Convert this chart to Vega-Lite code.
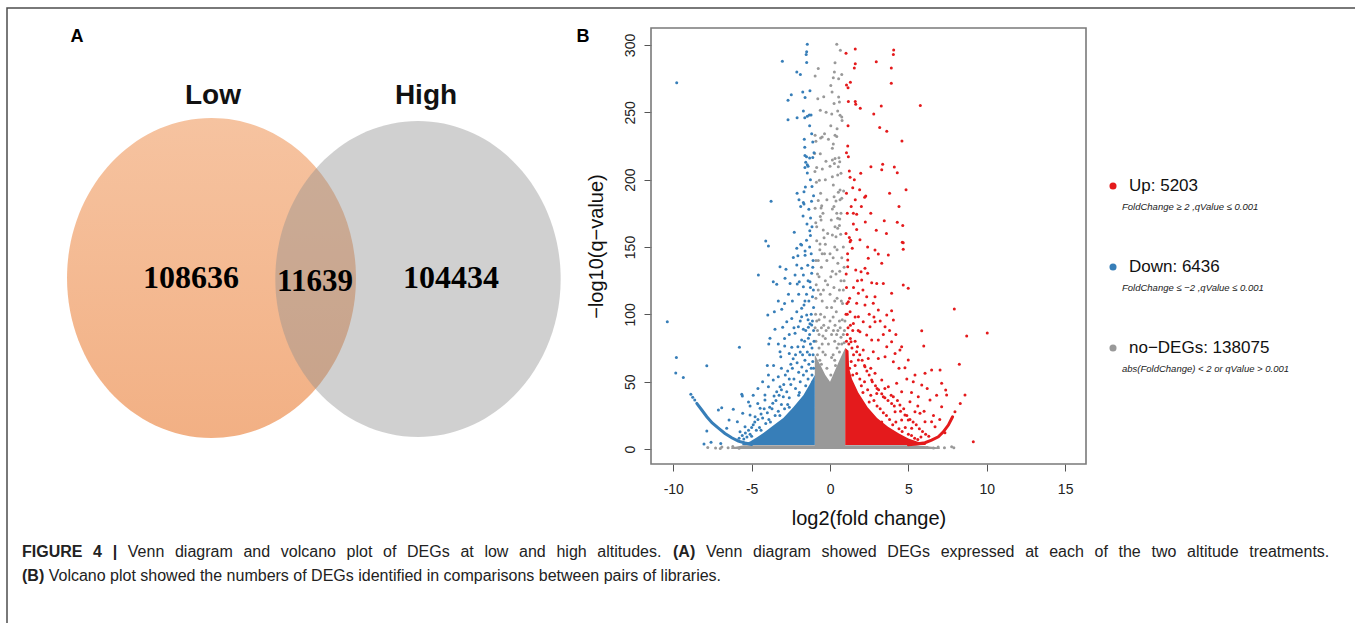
{
"$schema": "https://vega.github.io/schema/vega-lite/v6.json",
"width": 1348, "height": 615,
"autosize": {"type": "none"},
"padding": {"left": 7, "top": 8, "right": 0, "bottom": 0},
"background": "white",
"config": {"view": {"stroke": null}, "font": "Liberation Sans"},
"resolve": {"scale": {"x": "independent", "y": "independent"}},
"datasets": {
"venn": [{"set": "Low", "count": "108636"}, {"set": "Both", "count": "11639"}, {"set": "High", "count": "104434"}],
"panels": [{"panel": "A"}, {"panel": "B"}],
"dense": [
{"part": "strip", "g": "no", "x": -6.3, "lo": 0, "hi": 1.2}, {"part": "strip", "g": "no", "x": -5.5, "lo": 0, "hi": 2.8}, {"part": "strip", "g": "no", "x": 5.5, "lo": 0, "hi": 2.8}, {"part": "strip", "g": "no", "x": 7.0, "lo": 0, "hi": 1.2},
{"part": "column", "g": "no", "x": -0.97, "lo": 0, "hi": 70}, {"part": "column", "g": "no", "x": -0.6, "lo": 0, "hi": 62}, {"part": "column", "g": "no", "x": -0.3, "lo": 0, "hi": 55}, {"part": "column", "g": "no", "x": 0, "lo": 0, "hi": 50}, {"part": "column", "g": "no", "x": 0.3, "lo": 0, "hi": 58}, {"part": "column", "g": "no", "x": 0.6, "lo": 0, "hi": 66}, {"part": "column", "g": "no", "x": 0.97, "lo": 0, "hi": 75},
{"part": "down", "g": "down", "x": -5.6, "lo": 3, "hi": 3.6}, {"part": "down", "g": "down", "x": -5.1, "lo": 3, "hi": 5.6}, {"part": "down", "g": "down", "x": -4.68, "lo": 3, "hi": 8.5}, {"part": "down", "g": "down", "x": -4.25, "lo": 3, "hi": 12}, {"part": "down", "g": "down", "x": -3.62, "lo": 3, "hi": 17.5}, {"part": "down", "g": "down", "x": -2.98, "lo": 3, "hi": 23}, {"part": "down", "g": "down", "x": -2.34, "lo": 3, "hi": 31}, {"part": "down", "g": "down", "x": -1.7, "lo": 3, "hi": 40}, {"part": "down", "g": "down", "x": -1.3, "lo": 3, "hi": 48}, {"part": "down", "g": "down", "x": -0.97, "lo": 3, "hi": 55},
{"part": "up", "g": "up", "x": 0.97, "lo": 3, "hi": 75}, {"part": "up", "g": "up", "x": 1.18, "lo": 3, "hi": 73}, {"part": "up", "g": "up", "x": 1.22, "lo": 3, "hi": 60}, {"part": "up", "g": "up", "x": 1.4, "lo": 3, "hi": 52}, {"part": "up", "g": "up", "x": 1.8, "lo": 3, "hi": 42}, {"part": "up", "g": "up", "x": 2.4, "lo": 3, "hi": 31}, {"part": "up", "g": "up", "x": 3.0, "lo": 3, "hi": 23}, {"part": "up", "g": "up", "x": 3.7, "lo": 3, "hi": 16.5}, {"part": "up", "g": "up", "x": 4.4, "lo": 3, "hi": 11.5}, {"part": "up", "g": "up", "x": 5.0, "lo": 3, "hi": 7.8}, {"part": "up", "g": "up", "x": 5.6, "lo": 3, "hi": 5.4}, {"part": "up", "g": "up", "x": 6.1, "lo": 3, "hi": 4}
],
"curve": [
{"g": "down", "x": -8.5, "y": 33.9}, {"g": "down", "x": -8.18, "y": 29}, {"g": "down", "x": -7.86, "y": 24}, {"g": "down", "x": -7.53, "y": 19.5}, {"g": "down", "x": -7.12, "y": 15.6}, {"g": "down", "x": -6.7, "y": 11.6}, {"g": "down", "x": -6.27, "y": 8.4}, {"g": "down", "x": -5.85, "y": 5.9}, {"g": "down", "x": -5.42, "y": 4.5}, {"g": "down", "x": -5.0, "y": 3.4},
{"g": "up", "x": 5.0, "y": 3.2}, {"g": "up", "x": 5.5, "y": 3.8}, {"g": "up", "x": 6.06, "y": 4.7}, {"g": "up", "x": 6.48, "y": 6.7}, {"g": "up", "x": 6.91, "y": 9.1}, {"g": "up", "x": 7.23, "y": 12.8}, {"g": "up", "x": 7.55, "y": 17.8}, {"g": "up", "x": 7.82, "y": 24}
],
"pts": [
{"g":"no","x":-0.75,"y":282.6},{"g":"no","x":-0.95,"y":277},{"g":"no","x":-0.78,"y":260},{"g":"no","x":-0.4,"y":261.6},{"g":"no","x":-0.62,"y":251.5},{"g":"no","x":-0.95,"y":233},{"g":"no","x":-0.9,"y":228.5},{"g":"no","x":-0.6,"y":231},{"g":"no","x":-0.5,"y":231.6},{"g":"no","x":-0.35,"y":234},{"g":"no","x":-0.98,"y":219.5},{"g":"no","x":-0.62,"y":219.3},{"g":"no","x":-0.26,"y":213.6},{"g":"no","x":-0.85,"y":209},{"g":"no","x":-0.96,"y":206},{"g":"no","x":-0.49,"y":207.9},{"g":"no","x":-0.68,"y":199.5},{"g":"no","x":-0.87,"y":198},{"g":"no","x":-0.75,"y":184.6},{"g":"no","x":-0.53,"y":180.7},{"g":"no","x":-0.95,"y":178.7},{"g":"no","x":-0.57,"y":179},{"g":"no","x":-0.62,"y":172.7},{"g":"no","x":-0.57,"y":170},{"g":"no","x":-0.91,"y":168},{"g":"no","x":-0.43,"y":162.6},{"g":"no","x":-0.38,"y":156.9},{"g":"no","x":-0.85,"y":154.7},{"g":"no","x":-0.64,"y":152.2},
{"g":"no","x":0.43,"y":300.5},{"g":"no","x":0.66,"y":296},{"g":"no","x":0.32,"y":286.8},{"g":"no","x":0.28,"y":280},{"g":"no","x":0.21,"y":275.7},{"g":"no","x":0.55,"y":275},{"g":"no","x":0.75,"y":278},{"g":"no","x":0.13,"y":265},{"g":"no","x":0.55,"y":261.4},{"g":"no","x":0.6,"y":257.7},{"g":"no","x":0.26,"y":256.5},{"g":"no","x":0.11,"y":248.8},{"g":"no","x":0.49,"y":251},{"g":"no","x":0.64,"y":247.8},{"g":"no","x":0.75,"y":246.5},{"g":"no","x":0.77,"y":244},{"g":"no","x":0.45,"y":237.8},{"g":"no","x":0.32,"y":233},{"g":"no","x":0.43,"y":232},{"g":"no","x":0.21,"y":226.5},{"g":"no","x":0.15,"y":223.3},{"g":"no","x":0.57,"y":216.3},{"g":"no","x":0.32,"y":215.8},{"g":"no","x":0.15,"y":214.6},{"g":"no","x":0.28,"y":212},{"g":"no","x":0.62,"y":213.3},{"g":"no","x":0.53,"y":209.6},{"g":"no","x":0.15,"y":202.2},{"g":"no","x":0.49,"y":203.4},{"g":"no","x":0.7,"y":204.7},{"g":"no","x":0.21,"y":196},{"g":"no","x":0.64,"y":192.3},{"g":"no","x":0.53,"y":190.6},{"g":"no","x":0.87,"y":191.6},{"g":"no","x":0.26,"y":187.4},{"g":"no","x":0.75,"y":186.2},{"g":"no","x":0.38,"y":184.2},{"g":"no","x":0.64,"y":185.1},{"g":"no","x":0.15,"y":178.2},{"g":"no","x":0.43,"y":175},{"g":"no","x":0.49,"y":171.3},{"g":"no","x":0.62,"y":170.8},{"g":"no","x":0.32,"y":165},{"g":"no","x":0.6,"y":165.9},{"g":"no","x":0.49,"y":164},{"g":"no","x":0.15,"y":159},{"g":"no","x":0.68,"y":159.4},{"g":"no","x":0.38,"y":157.7},
{"g":"no","x":-0.9,"y":80},{"g":"no","x":-0.7,"y":85},{"g":"no","x":-0.5,"y":78},{"g":"no","x":-0.3,"y":82},{"g":"no","x":-0.1,"y":90},{"g":"no","x":0.1,"y":85},{"g":"no","x":0.3,"y":80},{"g":"no","x":0.5,"y":88},{"g":"no","x":0.7,"y":83},{"g":"no","x":0.9,"y":79},{"g":"no","x":-0.85,"y":95},{"g":"no","x":-0.6,"y":100},{"g":"no","x":-0.4,"y":92},{"g":"no","x":-0.2,"y":105},{"g":"no","x":0.2,"y":98},{"g":"no","x":0.4,"y":102},{"g":"no","x":0.6,"y":95},{"g":"no","x":0.8,"y":108},{"g":"no","x":-0.9,"y":112},{"g":"no","x":-0.75,"y":118},{"g":"no","x":-0.5,"y":110},{"g":"no","x":-0.3,"y":125},{"g":"no","x":0,"y":115},{"g":"no","x":0.25,"y":120},{"g":"no","x":0.45,"y":112},{"g":"no","x":0.7,"y":125},{"g":"no","x":0.85,"y":118},{"g":"no","x":-0.8,"y":130},{"g":"no","x":-0.55,"y":135},{"g":"no","x":-0.2,"y":140},{"g":"no","x":0.15,"y":132},{"g":"no","x":0.5,"y":138},{"g":"no","x":0.75,"y":142},{"g":"no","x":-0.65,"y":148},{"g":"no","x":-0.35,"y":145},{"g":"no","x":0.3,"y":150},{"g":"no","x":-0.9,"y":140},{"g":"no","x":0.9,"y":135},{"g":"no","x":-0.15,"y":160},{"g":"no","x":-0.6,"y":190},{"g":"no","x":0.05,"y":270},{"g":"no","x":-0.8,"y":70},{"g":"no","x":-0.65,"y":66},{"g":"no","x":-0.2,"y":60},{"g":"no","x":0.05,"y":55},{"g":"no","x":0.35,"y":62},{"g":"no","x":0.6,"y":72},{"g":"no","x":0.85,"y":85},{"g":"no","x":-0.45,"y":72},{"g":"no","x":0.2,"y":70},{"g":"no","x":-0.95,"y":90},{"g":"no","x":0.95,"y":95},
{"g":"no","x":-0.92,"y":100},{"g":"no","x":-0.8,"y":88},{"g":"no","x":-0.7,"y":96},{"g":"no","x":-0.55,"y":90},{"g":"no","x":-0.45,"y":84},{"g":"no","x":-0.35,"y":98},{"g":"no","x":-0.25,"y":88},{"g":"no","x":-0.1,"y":78},{"g":"no","x":0,"y":95},{"g":"no","x":0.1,"y":105},{"g":"no","x":0.22,"y":88},{"g":"no","x":0.32,"y":92},{"g":"no","x":0.42,"y":85},{"g":"no","x":0.55,"y":78},{"g":"no","x":0.65,"y":90},{"g":"no","x":0.78,"y":96},{"g":"no","x":0.92,"y":88},{"g":"no","x":-0.88,"y":122},{"g":"no","x":-0.7,"y":128},{"g":"no","x":-0.6,"y":115},{"g":"no","x":-0.42,"y":118},{"g":"no","x":-0.15,"y":122},{"g":"no","x":0.05,"y":128},{"g":"no","x":0.3,"y":110},{"g":"no","x":0.38,"y":130},{"g":"no","x":0.6,"y":118},{"g":"no","x":0.72,"y":110},{"g":"no","x":0.9,"y":125},{"g":"no","x":-0.75,"y":140},{"g":"no","x":-0.5,"y":145},{"g":"no","x":-0.3,"y":152},{"g":"no","x":0,"y":145},{"g":"no","x":0.2,"y":142},{"g":"no","x":0.45,"y":148},{"g":"no","x":0.62,"y":132},{"g":"no","x":0.85,"y":150},{"g":"no","x":-0.85,"y":165},{"g":"no","x":-0.45,"y":175},{"g":"no","x":-0.2,"y":185},{"g":"no","x":0.08,"y":170},{"g":"no","x":0.25,"y":180},{"g":"no","x":0.7,"y":175},{"g":"no","x":-0.3,"y":200},{"g":"no","x":0,"y":210},{"g":"no","x":-0.1,"y":230},{"g":"no","x":0.05,"y":240},{"g":"no","x":-0.25,"y":250},{"g":"no","x":-0.7,"y":75},{"g":"no","x":-0.3,"y":70},{"g":"no","x":0.1,"y":68},{"g":"no","x":0.45,"y":75},{"g":"no","x":0.75,"y":78},{"g":"no","x":-0.55,"y":63},{"g":"no","x":0.3,"y":66},
{"g":"no","x":-7.8,"y":1.2},{"g":"no","x":-7.3,"y":0.8},{"g":"no","x":-7,"y":0.4},{"g":"no","x":-6.9,"y":1.5},{"g":"no","x":-6.5,"y":1},{"g":"no","x":-6.2,"y":1.8},{"g":"no","x":-5.8,"y":0.6},{"g":"no","x":6.2,"y":1.2},{"g":"no","x":6.6,"y":0.8},{"g":"no","x":6.9,"y":1.5},{"g":"no","x":7.3,"y":0.9},{"g":"no","x":7.76,"y":1.7},{"g":"no","x":7.9,"y":1},
{"g":"down","x":-1.45,"y":300.5},{"g":"down","x":-1.49,"y":295},{"g":"down","x":-1.52,"y":293},{"g":"down","x":-3.04,"y":288},{"g":"down","x":-1.49,"y":287},{"g":"down","x":-9.78,"y":272},{"g":"down","x":-2.12,"y":280},{"g":"down","x":-1.89,"y":278},{"g":"down","x":-1.74,"y":265},{"g":"down","x":-1.28,"y":266},{"g":"down","x":-1.59,"y":261},{"g":"down","x":-2.47,"y":263},{"g":"down","x":-2.68,"y":259},{"g":"down","x":-1.7,"y":251},{"g":"down","x":-2.1,"y":246},{"g":"down","x":-1.61,"y":246},{"g":"down","x":-1.45,"y":247},{"g":"down","x":-1.32,"y":248},{"g":"down","x":-1.21,"y":248},{"g":"down","x":-2.68,"y":244.5},{"g":"down","x":-1.17,"y":234},{"g":"down","x":-1.64,"y":230},{"g":"down","x":-1.61,"y":224},{"g":"down","x":-1.6,"y":218},{"g":"down","x":-1.5,"y":217},{"g":"down","x":-1.3,"y":216},{"g":"down","x":-1.1,"y":216.5},{"g":"down","x":-1.02,"y":220},{"g":"down","x":-1.55,"y":213},{"g":"down","x":-1.45,"y":211},{"g":"down","x":-1.4,"y":210},{"g":"down","x":-1.6,"y":209},{"g":"down","x":-1.57,"y":194.5},{"g":"down","x":-1.15,"y":195},{"g":"down","x":-2.1,"y":190},{"g":"down","x":-1.66,"y":191},{"g":"down","x":-1.98,"y":185},{"g":"down","x":-1.7,"y":183},{"g":"down","x":-1.66,"y":182},{"g":"down","x":-1.18,"y":184},{"g":"down","x":-3.76,"y":184},{"g":"down","x":-1.87,"y":180},{"g":"down","x":-1.72,"y":173},{"g":"down","x":-1.24,"y":171.5},{"g":"down","x":-1.47,"y":167},{"g":"down","x":-2.28,"y":161},{"g":"down","x":-1.29,"y":162},{"g":"down","x":-1.25,"y":158.6},{"g":"down","x":-4.1,"y":154.4},{"g":"down","x":-1.87,"y":152},
{"g":"down","x":-3.93,"y":150.7},{"g":"down","x":-2.12,"y":149},{"g":"down","x":-1.81,"y":151.5},{"g":"down","x":-1.59,"y":147},{"g":"down","x":-1.59,"y":143.8},{"g":"down","x":-2.34,"y":142.3},{"g":"down","x":-2.05,"y":143.5},{"g":"down","x":-2.12,"y":136.6},{"g":"down","x":-1.42,"y":136.4},{"g":"down","x":-1.81,"y":134.2},{"g":"down","x":-3.19,"y":135.4},{"g":"down","x":-2.81,"y":133.4},{"g":"down","x":-4.57,"y":129.2},{"g":"down","x":-3.62,"y":124.2},{"g":"down","x":-3.4,"y":122.3},{"g":"down","x":-2.87,"y":126.8},{"g":"down","x":-2.55,"y":123},{"g":"down","x":-2.23,"y":129.2},{"g":"down","x":-1.7,"y":129.2},{"g":"down","x":-1.96,"y":124.2},{"g":"down","x":-2.09,"y":122.5},{"g":"down","x":-1.7,"y":120.5},{"g":"down","x":-1.17,"y":130.5},{"g":"down","x":-1.28,"y":124.2},{"g":"down","x":-1.06,"y":118},
{"g":"down","x":-3.97,"y":99.5},{"g":"down","x":-3.55,"y":102},{"g":"down","x":-3.08,"y":103.7},{"g":"down","x":-2.76,"y":94.5},{"g":"down","x":-2.44,"y":97},{"g":"down","x":-2.12,"y":102},{"g":"down","x":-1.81,"y":104.5},{"g":"down","x":-1.66,"y":107},{"g":"down","x":-1.81,"y":98.2},{"g":"down","x":-1.49,"y":99.5},{"g":"down","x":-2.02,"y":90.8},{"g":"down","x":-1.7,"y":88.9},{"g":"down","x":-2.23,"y":85.9},{"g":"down","x":-1.38,"y":90.4},{"g":"down","x":-1.17,"y":92.1},{"g":"down","x":-1.38,"y":82.2},{"g":"down","x":-1.81,"y":80.9},
{"g":"down","x":-10.38,"y":94.5},{"g":"down","x":-5.78,"y":75.5},{"g":"down","x":-3.83,"y":82.2},{"g":"down","x":-3.91,"y":78},{"g":"down","x":-3.51,"y":88.9},{"g":"down","x":-3.02,"y":90.4},{"g":"down","x":-2.89,"y":76.5},{"g":"down","x":-3.19,"y":72.3},{"g":"down","x":-3.14,"y":68.5},{"g":"down","x":-2.6,"y":71},{"g":"down","x":-2.44,"y":75.5},{"g":"down","x":-9.8,"y":68},{"g":"down","x":-7.86,"y":61.9},{"g":"down","x":-9.84,"y":56.4},{"g":"down","x":-9.36,"y":53.2},
{"g":"down","x":-3.93,"y":55},{"g":"down","x":-3.62,"y":51.2},{"g":"down","x":-3.3,"y":53.7},{"g":"down","x":-3.19,"y":46.3},{"g":"down","x":-3.93,"y":46.3},{"g":"down","x":-4.15,"y":40.1},{"g":"down","x":-3.57,"y":39.4},{"g":"down","x":-3.4,"y":42.6},{"g":"down","x":-2.98,"y":38.9},{"g":"down","x":-2.76,"y":42.6},{"g":"down","x":-5.63,"y":40.6},{"g":"down","x":-5.59,"y":39.4},
{"g":"down","x":-8.88,"y":40.6},{"g":"down","x":-8.76,"y":38.4},{"g":"down","x":-8.63,"y":36.4},
{"g":"down","x":-8.04,"y":3.7},{"g":"down","x":-7.59,"y":5},{"g":"down","x":-6.97,"y":4.2},{"g":"down","x":-7.86,"y":13.4},{"g":"down","x":-7.12,"y":29},{"g":"down","x":-6.91,"y":30.7},{"g":"down","x":-6.44,"y":21.5},{"g":"down","x":-6.17,"y":29.5},{"g":"down","x":-5.91,"y":20.3},{"g":"down","x":-5.57,"y":26.5},{"g":"down","x":-5.1,"y":31.9},{"g":"down","x":-4.61,"y":33.9},{"g":"down","x":-5.1,"y":25.2},{"g":"down","x":-4.78,"y":24},{"g":"down","x":-4.46,"y":30.2},{"g":"down","x":-4.15,"y":36.4},{"g":"down","x":-6.59,"y":15.4},{"g":"down","x":-5.74,"y":12.8},{"g":"down","x":-5.42,"y":16.6},
{"g":"down","x":-1.1,"y":50},{"g":"down","x":-1.15,"y":55},{"g":"down","x":-1.2,"y":60},{"g":"down","x":-1.1,"y":65},{"g":"down","x":-1.3,"y":70},{"g":"down","x":-1.15,"y":75},{"g":"down","x":-1.25,"y":78},{"g":"down","x":-1.4,"y":52},{"g":"down","x":-1.5,"y":58},{"g":"down","x":-1.35,"y":63},{"g":"down","x":-1.6,"y":66},{"g":"down","x":-1.45,"y":72},{"g":"down","x":-1.7,"y":55},{"g":"down","x":-1.8,"y":61},{"g":"down","x":-1.55,"y":47},{"g":"down","x":-1.9,"y":50},{"g":"down","x":-2,"y":57},{"g":"down","x":-2.1,"y":64},{"g":"down","x":-1.75,"y":70},{"g":"down","x":-2.3,"y":52},{"g":"down","x":-2.2,"y":45},{"g":"down","x":-2.5,"y":48},{"g":"down","x":-2.4,"y":60},{"g":"down","x":-1.95,"y":42},{"g":"down","x":-2.6,"y":38},{"g":"down","x":-2.7,"y":33},{"g":"down","x":-2.9,"y":30},{"g":"down","x":-3.1,"y":33},{"g":"down","x":-3.3,"y":28},{"g":"down","x":-3.5,"y":25},{"g":"down","x":-3.7,"y":30},{"g":"down","x":-3.9,"y":22},{"g":"down","x":-4.1,"y":19},{"g":"down","x":-4.3,"y":23},{"g":"down","x":-4.5,"y":16},{"g":"down","x":-4.7,"y":14},{"g":"down","x":-4.9,"y":18},{"g":"down","x":-5.1,"y":11},{"g":"down","x":-5.3,"y":9},{"g":"down","x":-5.5,"y":7.5},{"g":"down","x":-5,"y":9.5},{"g":"down","x":-4.4,"y":14},{"g":"down","x":-3.8,"y":20},{"g":"down","x":-3.2,"y":25},{"g":"down","x":-2.6,"y":31},{"g":"down","x":-2,"y":40},{"g":"down","x":-1.3,"y":85},{"g":"down","x":-1.05,"y":88},{"g":"down","x":-1.2,"y":100},{"g":"down","x":-1.05,"y":105},{"g":"down","x":-1.35,"y":110},{"g":"down","x":-1.12,"y":113},{"g":"down","x":-1.5,"y":115},{"g":"down","x":-1.08,"y":140},{"g":"down","x":-1.2,"y":145},
{"g":"down","x":-1.05,"y":60},{"g":"down","x":-1.08,"y":70},{"g":"down","x":-1.02,"y":80},{"g":"down","x":-1.12,"y":95},{"g":"down","x":-1.28,"y":93},{"g":"down","x":-1.4,"y":96},{"g":"down","x":-1.55,"y":88},{"g":"down","x":-1.62,"y":80},{"g":"down","x":-1.7,"y":76},{"g":"down","x":-1.9,"y":72},{"g":"down","x":-2.05,"y":76},{"g":"down","x":-2.2,"y":70},{"g":"down","x":-2.35,"y":67},{"g":"down","x":-2.5,"y":63},{"g":"down","x":-2.7,"y":58},{"g":"down","x":-2.85,"y":55},{"g":"down","x":-2.6,"y":52},{"g":"down","x":-2.95,"y":48},{"g":"down","x":-3.1,"y":44},{"g":"down","x":-3.25,"y":40},{"g":"down","x":-3.45,"y":36},{"g":"down","x":-3.65,"y":34},{"g":"down","x":-3.85,"y":31},{"g":"down","x":-4,"y":27},{"g":"down","x":-4.2,"y":30},{"g":"down","x":-4.4,"y":26},{"g":"down","x":-4.6,"y":22},{"g":"down","x":-4.8,"y":20},{"g":"down","x":-5,"y":16},{"g":"down","x":-5.2,"y":14},{"g":"down","x":-5.4,"y":12},{"g":"down","x":-5.6,"y":10},{"g":"down","x":-5.8,"y":8},{"g":"down","x":-1.25,"y":120},{"g":"down","x":-1.4,"y":125},{"g":"down","x":-1.1,"y":135},{"g":"down","x":-1.3,"y":150},{"g":"down","x":-1.5,"y":155},{"g":"down","x":-1.15,"y":165},{"g":"down","x":-1.35,"y":178},{"g":"down","x":-1.05,"y":188},{"g":"down","x":-1.25,"y":200},{"g":"down","x":-1.45,"y":205},{"g":"down","x":-1.1,"y":228},{"g":"down","x":-1.3,"y":240},{"g":"down","x":-2.4,"y":110},{"g":"down","x":-2.65,"y":115},{"g":"down","x":-2.9,"y":108},{"g":"down","x":-3.3,"y":110},{"g":"down","x":-2,"y":115},{"g":"down","x":-1.6,"y":110},{"g":"down","x":-1.9,"y":95},{"g":"down","x":-2.3,"y":90},{"g":"down","x":-2.6,"y":85},{"g":"down","x":-2.9,"y":82},{"g":"down","x":-3.3,"y":78},{"g":"down","x":-3.6,"y":62},{"g":"down","x":-3.1,"y":60},{"g":"down","x":-4.3,"y":50},{"g":"down","x":-4.6,"y":45},{"g":"down","x":-4.9,"y":40},{"g":"down","x":-5.2,"y":35},{"g":"down","x":-4,"y":62},
{"g":"up","x":1.61,"y":297},{"g":"up","x":1.02,"y":293.8},{"g":"up","x":4.06,"y":296.3},{"g":"up","x":4.04,"y":293},{"g":"up","x":2.95,"y":287.6},{"g":"up","x":1.61,"y":286},{"g":"up","x":1.55,"y":282.9},{"g":"up","x":3.91,"y":282.9},{"g":"up","x":1.3,"y":272.3},{"g":"up","x":1.05,"y":270.3},{"g":"up","x":1.15,"y":268.3},{"g":"up","x":3.91,"y":271.5},{"g":"up","x":1.17,"y":258},{"g":"up","x":1.61,"y":258},{"g":"up","x":1.64,"y":256},{"g":"up","x":1.93,"y":253},{"g":"up","x":3.27,"y":254.7},{"g":"up","x":5.76,"y":255},{"g":"up","x":2.79,"y":248.7},{"g":"up","x":3.17,"y":238.8},{"g":"up","x":3.62,"y":236},{"g":"up","x":4.59,"y":228.7},{"g":"up","x":1.13,"y":225},{"g":"up","x":1.05,"y":220},{"g":"up","x":1.17,"y":217},{"g":"up","x":2.61,"y":209.6},{"g":"up","x":3.36,"y":211.4},{"g":"up","x":3.3,"y":207.4},{"g":"up","x":4.1,"y":209.4},{"g":"up","x":4.29,"y":205.2},{"g":"up","x":1.23,"y":206.4},{"g":"up","x":1.28,"y":201.7},{"g":"up","x":1.96,"y":204.7},{"g":"up","x":4.85,"y":192.5},{"g":"up","x":1.45,"y":194},{"g":"up","x":1.89,"y":192.5},{"g":"up","x":2.28,"y":187.8},{"g":"up","x":2.21,"y":187},{"g":"up","x":1.61,"y":185},{"g":"up","x":1.49,"y":175},{"g":"up","x":1.7,"y":174.3},{"g":"up","x":3.46,"y":169.5},{"g":"up","x":2.95,"y":162.4},{"g":"up","x":4.29,"y":168.3},{"g":"up","x":4.64,"y":166},{"g":"up","x":2.25,"y":168.5},{"g":"up","x":1.49,"y":167},{"g":"up","x":1.7,"y":163},{"g":"up","x":1.23,"y":157},{"g":"up","x":1.32,"y":155},{"g":"up","x":1.91,"y":155.4},{"g":"up","x":4.61,"y":153.5},
{"g":"up","x":1.28,"y":153.9},{"g":"up","x":1.42,"y":149},{"g":"up","x":2.87,"y":147.8},{"g":"up","x":3.08,"y":144.8},{"g":"up","x":3.72,"y":144.1},{"g":"up","x":4.67,"y":153.2},{"g":"up","x":4.67,"y":148.3},{"g":"up","x":3.3,"y":137.9},{"g":"up","x":2.44,"y":141.6},{"g":"up","x":1.13,"y":140.3},{"g":"up","x":1.13,"y":135.4},{"g":"up","x":1.64,"y":132.9},{"g":"up","x":1.98,"y":131.7},{"g":"up","x":2.23,"y":134.2},{"g":"up","x":2.4,"y":130.5},{"g":"up","x":2.02,"y":125.5},{"g":"up","x":2.66,"y":123.5},{"g":"up","x":2.98,"y":123},{"g":"up","x":3.4,"y":123},{"g":"up","x":4.67,"y":121.8},{"g":"up","x":4.99,"y":119.3},{"g":"up","x":1.81,"y":115.6},{"g":"up","x":2.34,"y":113.1},{"g":"up","x":2.87,"y":113.1},{"g":"up","x":3.93,"y":115.6},{"g":"up","x":1.17,"y":109.4},{"g":"up","x":1.7,"y":108.2},{"g":"up","x":2.23,"y":106.9},{"g":"up","x":2.76,"y":108.2},{"g":"up","x":3.08,"y":103.2},{"g":"up","x":3.62,"y":99.5},{"g":"up","x":3.93,"y":102.7},{"g":"up","x":4.04,"y":95.8},{"g":"up","x":1.28,"y":102},{"g":"up","x":1.81,"y":98.2},{"g":"up","x":1.49,"y":93.3},{"g":"up","x":2.12,"y":94.5},{"g":"up","x":2.55,"y":90.8},{"g":"up","x":2.87,"y":94.5},{"g":"up","x":3.51,"y":90.8},{"g":"up","x":1.91,"y":87.1},{"g":"up","x":2.34,"y":84.6},{"g":"up","x":2.66,"y":80.9},{"g":"up","x":3.08,"y":80.9},{"g":"up","x":3.62,"y":76},{"g":"up","x":3.93,"y":79.7},{"g":"up","x":4.57,"y":76},{"g":"up","x":5.85,"y":87.8},{"g":"up","x":5.98,"y":76.5},{"g":"up","x":7.93,"y":104},{"g":"up","x":8.72,"y":83.9},{"g":"up","x":10.03,"y":86.1},{"g":"up","x":8.25,"y":62.9},{"g":"up","x":1.34,"y":79.7},{"g":"up","x":1.7,"y":72.3},{"g":"up","x":2.12,"y":73.5},{"g":"up","x":2.76,"y":72.3},{"g":"up","x":2.44,"y":67.3},{"g":"up","x":3.08,"y":67.3},{"g":"up","x":3.51,"y":68.5},{"g":"up","x":4.04,"y":64.8},{"g":"up","x":4.15,"y":71},{"g":"up","x":4.46,"y":73.5},{"g":"up","x":4.99,"y":66.1},{"g":"up","x":4.78,"y":60.4},{"g":"up","x":5.42,"y":55},{"g":"up","x":6.06,"y":56.2},{"g":"up","x":6.48,"y":58.7},{"g":"up","x":7.02,"y":58.7},{"g":"up","x":7.12,"y":48.8},{"g":"up","x":7.38,"y":43.8},{"g":"up","x":7.44,"y":40.1},{"g":"up","x":8.31,"y":33.9},{"g":"up","x":8.61,"y":40.1},{"g":"up","x":7.97,"y":27.7},{"g":"up","x":7.12,"y":31.4},{"g":"up","x":6.48,"y":20.3},{"g":"up","x":6.7,"y":16.6},{"g":"up","x":7.33,"y":12.1},{"g":"up","x":9.14,"y":5.4},{"g":"up","x":5.31,"y":50},{"g":"up","x":5.85,"y":47.5},{"g":"up","x":6.38,"y":36.4},{"g":"up","x":5.63,"y":38.8},{"g":"up","x":5.1,"y":35.1},{"g":"up","x":4.57,"y":42.6},{"g":"up","x":4.25,"y":48.8},{"g":"up","x":4.04,"y":38.8},{"g":"up","x":4.46,"y":32.7},{"g":"up","x":5.42,"y":27.7},{"g":"up","x":4.99,"y":21.5},{"g":"up","x":5.74,"y":26.5},{"g":"up","x":6.06,"y":20.3},{"g":"up","x":5.21,"y":15.4},{"g":"up","x":4.78,"y":25.2},{"g":"up","x":3.72,"y":46.3},{"g":"up","x":3.3,"y":51.2},{"g":"up","x":2.87,"y":56.2},{"g":"up","x":2.23,"y":61.1},{"g":"up","x":2.66,"y":51.2},{"g":"up","x":1.81,"y":66.1},{"g":"up","x":3.4,"y":38.8},{"g":"up","x":3.93,"y":33.9},{"g":"up","x":2.98,"y":41.3},{"g":"up","x":4.15,"y":27.7},{"g":"up","x":4.57,"y":21.5},
{"g":"up","x":1.05,"y":80},{"g":"up","x":1.1,"y":85},{"g":"up","x":1.2,"y":78},{"g":"up","x":1.3,"y":82},{"g":"up","x":1.15,"y":90},{"g":"up","x":1.4,"y":75},{"g":"up","x":1.5,"y":70},{"g":"up","x":1.35,"y":65},{"g":"up","x":1.6,"y":62},{"g":"up","x":1.7,"y":56},{"g":"up","x":1.25,"y":60},{"g":"up","x":1.45,"y":55},{"g":"up","x":1.9,"y":52},{"g":"up","x":2,"y":47},{"g":"up","x":2.2,"y":50},{"g":"up","x":2.1,"y":42},{"g":"up","x":2.4,"y":44},{"g":"up","x":2.6,"y":40},{"g":"up","x":2.5,"y":35},{"g":"up","x":2.8,"y":36},{"g":"up","x":3,"y":32},{"g":"up","x":3.2,"y":30},{"g":"up","x":3.4,"y":27},{"g":"up","x":3.6,"y":25},{"g":"up","x":3.3,"y":20},{"g":"up","x":3.8,"y":22},{"g":"up","x":4,"y":18},{"g":"up","x":4.2,"y":20},{"g":"up","x":4.4,"y":15},{"g":"up","x":4.6,"y":13},{"g":"up","x":4.8,"y":16},{"g":"up","x":5,"y":11},{"g":"up","x":5.2,"y":10},{"g":"up","x":5.4,"y":8},{"g":"up","x":5.6,"y":7},{"g":"up","x":5.8,"y":9},{"g":"up","x":1.8,"y":88},{"g":"up","x":1.1,"y":100},{"g":"up","x":1.25,"y":112},{"g":"up","x":1.05,"y":120},{"g":"up","x":1.6,"y":98},{"g":"up","x":2.6,"y":60},{"g":"up","x":3,"y":45},{"g":"up","x":3.5,"y":38},
{"g":"up","x":1.02,"y":100},{"g":"up","x":1.08,"y":108},{"g":"up","x":1.03,"y":130},{"g":"up","x":1.12,"y":145},{"g":"up","x":1.02,"y":160},{"g":"up","x":1.1,"y":175},{"g":"up","x":1.05,"y":190},{"g":"up","x":1.15,"y":240},{"g":"up","x":1.3,"y":92},{"g":"up","x":1.45,"y":88},{"g":"up","x":1.6,"y":80},{"g":"up","x":1.75,"y":76},{"g":"up","x":1.9,"y":70},{"g":"up","x":2.05,"y":66},{"g":"up","x":2.2,"y":62},{"g":"up","x":2.35,"y":58},{"g":"up","x":2.5,"y":55},{"g":"up","x":2.7,"y":50},{"g":"up","x":2.9,"y":47},{"g":"up","x":3.1,"y":44},{"g":"up","x":3.3,"y":41},{"g":"up","x":3.5,"y":45},{"g":"up","x":3.7,"y":36},{"g":"up","x":3.9,"y":40},{"g":"up","x":4.1,"y":32},{"g":"up","x":4.3,"y":36},{"g":"up","x":4.5,"y":28},{"g":"up","x":4.7,"y":30},{"g":"up","x":4.9,"y":25},{"g":"up","x":5.1,"y":22},{"g":"up","x":5.3,"y":20},{"g":"up","x":5.5,"y":18},{"g":"up","x":5.7,"y":15},{"g":"up","x":5.9,"y":13},{"g":"up","x":6.1,"y":11},{"g":"up","x":6.3,"y":9.5},{"g":"up","x":1.5,"y":120},{"g":"up","x":1.75,"y":125},{"g":"up","x":2.1,"y":118},{"g":"up","x":2.5,"y":100},{"g":"up","x":2.8,"y":98},{"g":"up","x":3.2,"y":95},{"g":"up","x":3.4,"y":85},{"g":"up","x":3.8,"y":88},{"g":"up","x":4.2,"y":85},{"g":"up","x":4.4,"y":60},{"g":"up","x":4.9,"y":52},{"g":"up","x":5.2,"y":42},{"g":"up","x":5.6,"y":32},{"g":"up","x":6,"y":28},{"g":"up","x":6.6,"y":25},{"g":"up","x":7,"y":22},{"g":"up","x":6.8,"y":40},{"g":"up","x":6.2,"y":45},{"g":"up","x":1.35,"y":180},{"g":"up","x":1.55,"y":200},{"g":"up","x":2,"y":180},{"g":"up","x":2.6,"y":175},{"g":"up","x":2.4,"y":150},{"g":"up","x":3.6,"y":160},{"g":"up","x":3.8,"y":190},{"g":"up","x":4.4,"y":180}
],
"legend": [
{"g": "up", "title": "Up: 5203", "note": "FoldChange ≥ 2 ,qValue ≤ 0.001"},
{"g": "down", "title": "Down: 6436", "note": "FoldChange ≤ −2 ,qValue ≤ 0.001"},
{"g": "no", "title": "no−DEGs: 138075", "note": "abs(FoldChange) < 2  or qValue > 0.001"}
],
"caption": [
{"line": "1", "part": "head", "text": "FIGURE\u2002\u20064\u2002\u2006|"},
{"line": "1", "part": "body", "text": "Venn\u2002\u2006diagram\u2002\u2006and\u2002\u2006volcano\u2002\u2006plot\u2002\u2006of\u2002\u2006DEGs\u2002\u2006at\u2002\u2006low\u2002\u2006and\u2002\u2006high\u2002\u2006altitudes."},
{"line": "1", "part": "tag", "text": "(A)"},
{"line": "1", "part": "body2", "text": "Venn\u2002\u2006diagram\u2002\u2006showed\u2002\u2006DEGs\u2002\u2006expressed\u2002\u2006at\u2002\u2006each\u2002\u2006of\u2002\u2006the\u2002\u2006two\u2002\u2006altitude\u2002\u2006treatments."},
{"line": "2", "part": "tag", "text": "(B)"},
{"line": "2", "part": "body", "text": "Volcano plot showed the numbers of DEGs identified in comparisons between pairs of libraries."}
]
},
"layer": [
{"data": {"values": [{}]},
 "mark": {"type": "rect", "filled": false, "stroke": "#4d4d4d", "strokeWidth": 1.5},
 "encoding": {
  "x": {"datum": 0, "type": "quantitative", "scale": {"domain": [0, 1], "range": [0, 1360], "nice": false, "zero": false}, "axis": null},
  "x2": {"datum": 1},
  "y": {"datum": 0, "type": "quantitative", "scale": {"domain": [0, 1], "range": [0, 630], "nice": false, "zero": false}, "axis": null},
  "y2": {"datum": 1}}},
{"data": {"name": "venn"}, "transform": [{"filter": "datum.set === 'Low'"}],
 "mark": {"type": "point", "shape": "M0.903,0C0.903,0.5523,0.4987,1,0,1C-0.4987,1,-0.903,0.5523,-0.903,0C-0.903,-0.5523,-0.4987,-1,0,-1C0.4987,-1,0.903,-0.5523,0.903,0Z", "size": 102400, "filled": true, "opacity": 1, "strokeWidth": 0,
  "color": {"gradient": "linear", "x1": 0, "y1": 0, "x2": 0, "y2": 1, "stops": [{"offset": 0, "color": "#F6C3A0"}, {"offset": 1, "color": "#F2B084"}]}},
 "encoding": {"x": {"field": "set", "type": "nominal", "scale": {"type": "point", "domain": ["Low", "Both", "High"], "range": [204.5, 411], "padding": 0}, "axis": null},
  "y": {"datum": "count", "type": "nominal", "scale": {"type": "point", "domain": ["name", "count"], "range": [88, 270], "padding": 0}, "axis": null}}},
{"data": {"name": "venn"}, "transform": [{"filter": "datum.set === 'High'"}],
 "mark": {"type": "point", "shape": "M0.903,0C0.903,0.5523,0.4987,1,0,1C-0.4987,1,-0.903,0.5523,-0.903,0C-0.903,-0.5523,-0.4987,-1,0,-1C0.4987,-1,0.903,-0.5523,0.903,0Z", "size": 99856, "filled": true, "opacity": 0.42, "strokeWidth": 0, "color": "#8e8e8e"},
 "encoding": {"x": {"field": "set", "type": "nominal", "scale": {"type": "point", "domain": ["Low", "Both", "High"], "range": [204.5, 411], "padding": 0}, "axis": null},
  "y": {"datum": "count", "type": "nominal", "scale": {"type": "point", "domain": ["name", "count"], "range": [88, 271], "padding": 0}, "axis": null}}},
{"data": {"name": "venn"}, "transform": [{"filter": "datum.set !== 'Both'"}],
 "mark": {"type": "text", "font": "Liberation Sans", "fontWeight": "bold", "fontSize": 28, "color": "#111", "align": "center", "baseline": "middle"},
 "encoding": {"x": {"field": "set", "type": "nominal", "scale": {"type": "point", "domain": ["Low", "High"], "range": [206, 419], "padding": 0}, "axis": null},
  "y": {"datum": "name", "type": "nominal", "scale": {"type": "point", "domain": ["name", "count"], "range": [88, 270], "padding": 0}, "axis": null},
  "text": {"field": "set"}}},
{"data": {"name": "venn"}, "transform": [{"filter": "datum.set !== 'Both'"}],
 "mark": {"type": "text", "font": "Liberation Serif", "fontWeight": "bold", "fontSize": 32, "color": "#000", "align": "center", "baseline": "middle"},
 "encoding": {"x": {"field": "set", "type": "nominal", "scale": {"type": "point", "domain": ["Low", "High"], "range": [184, 444], "padding": 0}, "axis": null},
  "y": {"datum": "count", "type": "nominal", "scale": {"type": "point", "domain": ["name", "count"], "range": [88, 270], "padding": 0}, "axis": null},
  "text": {"field": "count"}}},
{"data": {"name": "venn"}, "transform": [{"filter": "datum.set === 'Both'"}],
 "mark": {"type": "text", "font": "Liberation Serif", "fontWeight": "bold", "fontSize": 31, "color": "#000", "align": "center", "baseline": "middle"},
 "encoding": {"x": {"field": "set", "type": "nominal", "scale": {"type": "point", "domain": ["Both"], "range": [308, 308], "padding": 0}, "axis": null},
  "y": {"datum": "count", "type": "nominal", "scale": {"type": "point", "domain": ["name", "count"], "range": [88, 274], "padding": 0}, "axis": null},
  "text": {"field": "count"}}},
{"data": {"name": "panels"},
 "mark": {"type": "text", "font": "Liberation Sans", "fontWeight": "bold", "fontSize": 18, "color": "#000", "align": "center", "baseline": "middle"},
 "encoding": {"x": {"field": "panel", "type": "nominal", "scale": {"type": "point", "domain": ["A", "B"], "range": [70, 576], "padding": 0}, "axis": null},
  "y": {"field": "panel", "type": "nominal", "scale": {"type": "point", "domain": ["A", "B"], "range": [29, 29], "padding": 0}, "axis": null},
  "text": {"field": "panel"}}},
{"data": {"values": [{}]},
 "mark": {"type": "rect", "filled": false, "stroke": "#7a7a7a", "strokeWidth": 1.6},
 "encoding": {
  "x": {"datum": -11.42, "type": "quantitative", "scale": {"domain": [-11.42, 16.33], "range": [644, 1079], "nice": false, "zero": false},
   "axis": {"orient": "bottom", "offset": -159, "values": [-10, -5, 0, 5, 10, 15], "domain": false, "grid": false, "tickSize": 7, "tickColor": "#555", "tickWidth": 1, "labelFont": "Liberation Sans", "labelFontSize": 14, "labelColor": "#222", "labelPadding": 11, "labelExpr": "'' + datum.value", "labelFlush": false, "labelOverlap": false, "title": "log2(fold change)", "titleFont": "Liberation Sans", "titleFontSize": 20, "titleFontWeight": "normal", "titleColor": "#111", "titlePadding": 12}},
  "x2": {"datum": 16.33},
  "y": {"datum": -11.1, "type": "quantitative", "scale": {"domain": [-11.1, 312.6], "range": [456, 20], "nice": false, "zero": false},
   "axis": {"orient": "left", "offset": -644, "values": [0, 50, 100, 150, 200, 250, 300], "domain": false, "grid": false, "tickSize": 7, "tickColor": "#555", "tickWidth": 1, "labelAngle": 270, "labelAlign": "center", "labelBaseline": "alphabetic", "labelPadding": 10, "labelFont": "Liberation Sans", "labelFontSize": 14, "labelColor": "#222", "labelFlush": false, "labelOverlap": false, "title": "−log10(q−value)", "titleFont": "Liberation Sans", "titleFontSize": 20, "titleFontWeight": "normal", "titleColor": "#111", "titlePadding": 17}},
  "y2": {"datum": 312.6}}},
{"data": {"name": "dense"},
 "mark": {"type": "area", "opacity": 1, "interpolate": "linear"},
 "encoding": {
  "x": {"field": "x", "type": "quantitative", "scale": {"domain": [-11.42, 16.33], "range": [644, 1079], "nice": false, "zero": false}, "axis": null},
  "y": {"field": "hi", "type": "quantitative", "stack": null, "scale": {"domain": [-11.1, 312.6], "range": [456, 20], "nice": false, "zero": false}, "axis": null},
  "y2": {"field": "lo"},
  "detail": {"field": "part"},
  "color": {"field": "g", "type": "nominal", "scale": {"domain": ["up", "down", "no"], "range": ["#E41A1C", "#377EB8", "#999999"]}, "legend": null}}},
{"data": {"name": "curve"},
 "mark": {"type": "line", "strokeWidth": 3, "strokeCap": "round", "opacity": 1},
 "encoding": {
  "x": {"field": "x", "type": "quantitative", "scale": {"domain": [-11.42, 16.33], "range": [644, 1079], "nice": false, "zero": false}, "axis": null},
  "y": {"field": "y", "type": "quantitative", "scale": {"domain": [-11.1, 312.6], "range": [456, 20], "nice": false, "zero": false}, "axis": null},
  "color": {"field": "g", "type": "nominal", "scale": {"domain": ["up", "down", "no"], "range": ["#E41A1C", "#377EB8", "#999999"]}, "legend": null}}},
{"data": {"name": "pts"},
 "mark": {"type": "circle", "size": 9, "opacity": 1},
 "encoding": {
  "x": {"field": "x", "type": "quantitative", "scale": {"domain": [-11.42, 16.33], "range": [644, 1079], "nice": false, "zero": false}, "axis": null},
  "y": {"field": "y", "type": "quantitative", "scale": {"domain": [-11.1, 312.6], "range": [456, 20], "nice": false, "zero": false}, "axis": null},
  "color": {"field": "g", "type": "nominal", "scale": {"domain": ["up", "down", "no"], "range": ["#E41A1C", "#377EB8", "#999999"]}, "legend": null}}},
{"data": {"name": "legend"},
 "mark": {"type": "circle", "size": 50, "opacity": 1},
 "encoding": {
  "x": {"datum": "dot", "type": "nominal", "scale": {"type": "point", "domain": ["dot", "label"], "range": [1106, 1122], "padding": 0}, "axis": null},
  "y": {"field": "g", "type": "nominal", "scale": {"type": "point", "domain": ["up", "down", "no"], "range": [178, 340], "padding": 0}, "axis": null},
  "color": {"field": "g", "type": "nominal", "scale": {"domain": ["up", "down", "no"], "range": ["#E41A1C", "#377EB8", "#999999"]}, "legend": null}}},
{"data": {"name": "legend"},
 "mark": {"type": "text", "font": "Liberation Sans", "fontSize": 17, "color": "#111", "align": "left", "baseline": "middle"},
 "encoding": {
  "x": {"datum": "label", "type": "nominal", "scale": {"type": "point", "domain": ["dot", "label"], "range": [1106, 1122], "padding": 0}, "axis": null},
  "y": {"field": "g", "type": "nominal", "scale": {"type": "point", "domain": ["up", "down", "no"], "range": [178, 340], "padding": 0}, "axis": null},
  "text": {"field": "title"}}},
{"data": {"name": "legend"},
 "mark": {"type": "text", "font": "Liberation Sans", "fontSize": 9.5, "fontStyle": "italic", "color": "#222", "align": "left", "baseline": "middle", "dx": -7, "dy": 21},
 "encoding": {
  "x": {"datum": "label", "type": "nominal", "scale": {"type": "point", "domain": ["dot", "label"], "range": [1106, 1122], "padding": 0}, "axis": null},
  "y": {"field": "g", "type": "nominal", "scale": {"type": "point", "domain": ["up", "down", "no"], "range": [178, 340], "padding": 0}, "axis": null},
  "text": {"field": "note"}}},
{"data": {"name": "caption"}, "transform": [{"filter": "datum.line === '1' && datum.part === 'head'"}],
 "mark": {"type": "text", "font": "Liberation Sans", "fontSize": 16, "fontWeight": "bold", "color": "#222", "align": "left", "baseline": "middle"},
 "encoding": {"x": {"datum": 22, "type": "quantitative", "scale": {"domain": [0, 1355], "range": [-7, 1348]}, "axis": null},
  "y": {"field": "line", "type": "nominal", "scale": {"type": "point", "domain": ["1", "2"], "range": [544, 568], "padding": 0}, "axis": null},
  "text": {"field": "text"}}},
{"data": {"name": "caption"}, "transform": [{"filter": "datum.line === '1' && datum.part === 'body'"}],
 "mark": {"type": "text", "font": "Liberation Sans", "fontSize": 16, "color": "#222", "align": "left", "baseline": "middle"},
 "encoding": {"x": {"datum": 127.8, "type": "quantitative", "scale": {"domain": [0, 1355], "range": [-7, 1348]}, "axis": null},
  "y": {"field": "line", "type": "nominal", "scale": {"type": "point", "domain": ["1", "2"], "range": [544, 568], "padding": 0}, "axis": null},
  "text": {"field": "text"}}},
{"data": {"name": "caption"}, "transform": [{"filter": "datum.line === '1' && datum.part === 'tag'"}],
 "mark": {"type": "text", "font": "Liberation Sans", "fontSize": 16, "fontWeight": "bold", "color": "#222", "align": "left", "baseline": "middle"},
 "encoding": {"x": {"datum": 673, "type": "quantitative", "scale": {"domain": [0, 1355], "range": [-7, 1348]}, "axis": null},
  "y": {"field": "line", "type": "nominal", "scale": {"type": "point", "domain": ["1", "2"], "range": [544, 568], "padding": 0}, "axis": null},
  "text": {"field": "text"}}},
{"data": {"name": "caption"}, "transform": [{"filter": "datum.line === '1' && datum.part === 'body2'"}],
 "mark": {"type": "text", "font": "Liberation Sans", "fontSize": 16, "color": "#222", "align": "left", "baseline": "middle"},
 "encoding": {"x": {"datum": 705.9, "type": "quantitative", "scale": {"domain": [0, 1355], "range": [-7, 1348]}, "axis": null},
  "y": {"field": "line", "type": "nominal", "scale": {"type": "point", "domain": ["1", "2"], "range": [544, 568], "padding": 0}, "axis": null},
  "text": {"field": "text"}}},
{"data": {"name": "caption"}, "transform": [{"filter": "datum.line === '2' && datum.part === 'tag'"}],
 "mark": {"type": "text", "font": "Liberation Sans", "fontSize": 16, "fontWeight": "bold", "color": "#222", "align": "left", "baseline": "middle"},
 "encoding": {"x": {"datum": 22, "type": "quantitative", "scale": {"domain": [0, 1355], "range": [-7, 1348]}, "axis": null},
  "y": {"field": "line", "type": "nominal", "scale": {"type": "point", "domain": ["1", "2"], "range": [544, 568], "padding": 0}, "axis": null},
  "text": {"field": "text"}}},
{"data": {"name": "caption"}, "transform": [{"filter": "datum.line === '2' && datum.part === 'body'"}],
 "mark": {"type": "text", "font": "Liberation Sans", "fontSize": 16, "color": "#222", "align": "left", "baseline": "middle"},
 "encoding": {"x": {"datum": 48.7, "type": "quantitative", "scale": {"domain": [0, 1355], "range": [-7, 1348]}, "axis": null},
  "y": {"field": "line", "type": "nominal", "scale": {"type": "point", "domain": ["1", "2"], "range": [544, 568], "padding": 0}, "axis": null},
  "text": {"field": "text"}}}
]
}
